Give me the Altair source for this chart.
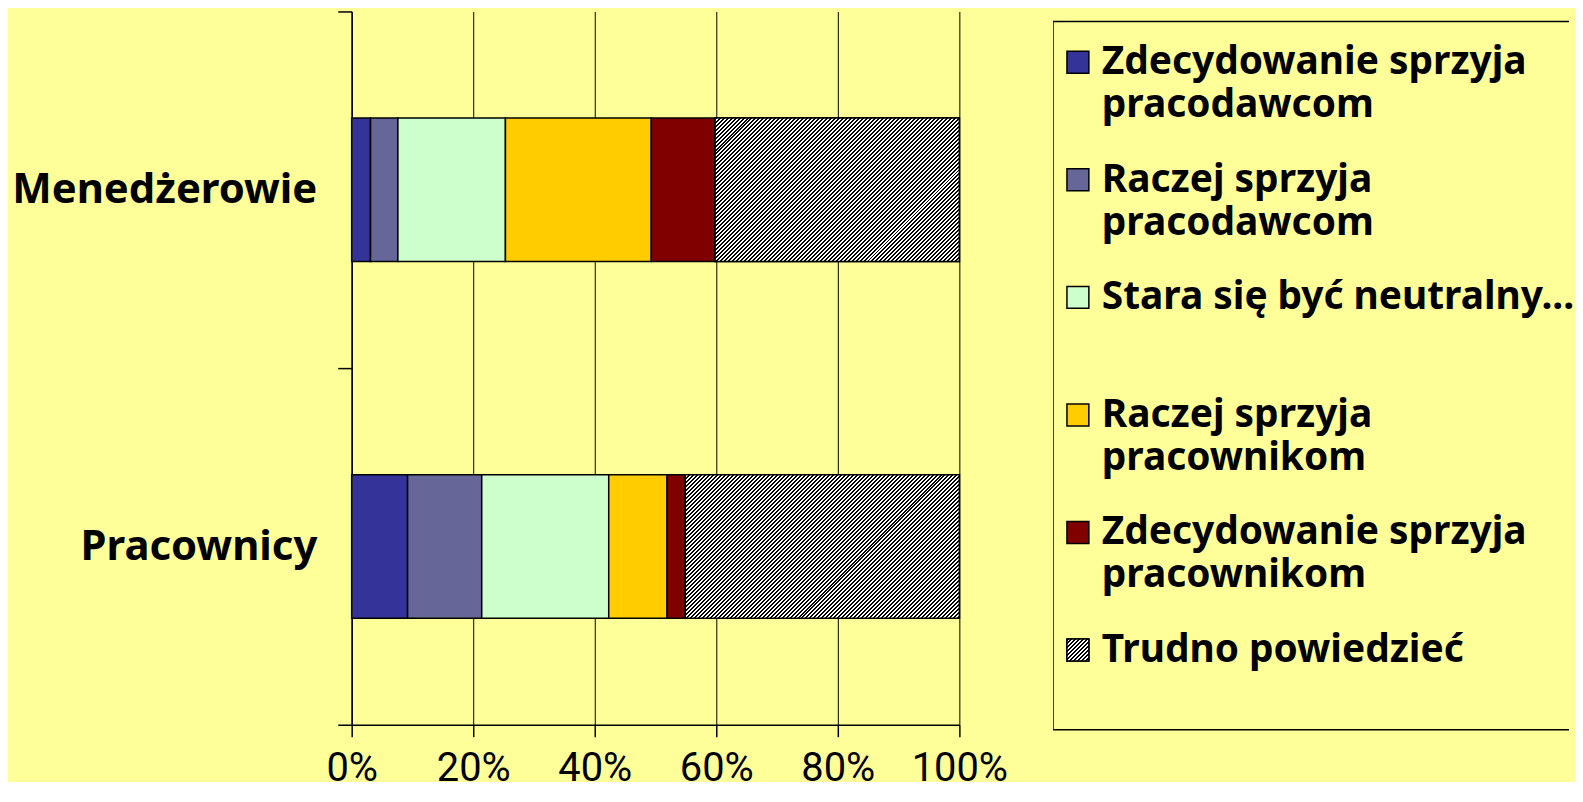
import altair as alt
import pandas as pd

# ---------------- data ----------------
groups = ["Menedżerowie", "Pracownicy"]
answers = [
    "Zdecydowanie sprzyja pracodawcom",
    "Raczej sprzyja pracodawcom",
    "Stara się być neutralny...",
    "Raczej sprzyja pracownikom",
    "Zdecydowanie sprzyja pracownikom",
    "Trudno powiedzieć",
]
legend_line1 = ["Zdecydowanie sprzyja", "Raczej sprzyja", "Stara się być neutralny...",
                "Raczej sprzyja", "Zdecydowanie sprzyja", "Trudno powiedzieć"]
legend_line2 = ["pracodawcom", "pracodawcom", "", "pracownikom", "pracownikom", ""]
menedzerowie = [3.1, 4.5, 17.7, 24.0, 10.5, 40.2]
pracownicy = [9.2, 12.2, 20.9, 9.6, 3.0, 45.1]
colors = ["#333399", "#666699", "#CCFFCC", "#FFCC00", "#800000", "#FFFFFF"]
x_ticks = [0, 0.2, 0.4, 0.6, 0.8, 1.0]

# ---------------- style ----------------
PLOT_W, PLOT_H, BAR_H = 610, 716, 144
LEG_W, LEG_H = 518, 730
BG = "#FFFF99"
BOLD_FONT = "Noto Sans"
TICK_FONT = "Roboto"

rows = []
for g, vals in zip(groups, [menedzerowie, pracownicy]):
    for i, (a, v) in enumerate(zip(answers, vals)):
        rows.append({"group": g, "answer": a, "order": i, "value": v})
df = pd.DataFrame(rows)


def hatch(w, h, period=4.0, frac=0.5):
    """Diagonal black/white stripes ('/' at 45 deg) as a linear gradient."""
    r = h / w
    a = (1 + r) / (1 + r * r)
    n = (w + h) / period
    stops = []
    i = 0
    while i / n < 1:
        o0 = round(i / n, 5)
        o1 = round(min((i + frac) / n, 1), 5)
        o2 = round(min((i + 1) / n, 1), 5)
        stops += [{"offset": o0, "color": "black"}, {"offset": o1, "color": "black"},
                  {"offset": o1, "color": "white"}, {"offset": o2, "color": "white"}]
        i += 1
    return {"gradient": "linear", "x1": 0, "y1": 0, "x2": a, "y2": a * r, "stops": stops}


base = (
    alt.Chart(df)
    .transform_joinaggregate(total="sum(value)", groupby=["group"])
    .transform_stack(stack="value", groupby=["group"],
                     sort=[alt.SortField("order", "ascending")], as_=["s0", "s1"])
    .transform_calculate(f0="datum.s0 / datum.total", f1="datum.s1 / datum.total")
)

y_enc = alt.Y(
    "group:N", sort=groups, title=None,
    scale=alt.Scale(paddingInner=0, paddingOuter=0),
    axis=alt.Axis(tickBand="extent", tickSize=14, tickColor="black", tickWidth=1.5,
                  domainColor="black", domainWidth=1.5, labelFont=BOLD_FONT,
                  labelFontSize=42, labelFontWeight="bold", labelColor="black",
                  labelPadding=21, labelLimit=0, grid=False),
)
x_enc = alt.X(
    "f0:Q", title=None,
    scale=alt.Scale(domain=[0, 1], nice=False),
    axis=alt.Axis(values=x_ticks, format=".0%", grid=True, gridColor="black",
                  gridWidth=1, gridOpacity=1, tickSize=12, tickColor="black",
                  tickWidth=1.5, domainColor="black", domainWidth=1.5,
                  labelFont=TICK_FONT, labelFontSize=40, labelColor="black",
                  labelBaseline="alphabetic", labelPadding=44, labelFlush=False,
                  labelOverlap=False),
)
color_scale = alt.Scale(domain=answers, range=colors)

bars = base.mark_bar(size=BAR_H, stroke="black", strokeWidth=1.5).encode(
    y=y_enc, x=x_enc, x2="f1:Q",
    color=alt.Color("answer:N", scale=color_scale, legend=None),
)

hatch_layers = []
for g, vals in zip(groups, [menedzerowie, pracownicy]):
    w = vals[-1] / sum(vals) * PLOT_W
    hatch_layers.append(
        base.transform_filter((alt.datum.group == g) & (alt.datum.answer == answers[-1]))
        .mark_bar(size=BAR_H, fill=hatch(w, BAR_H), stroke="black", strokeWidth=1.5)
        .encode(y=y_enc, x=x_enc, x2="f1:Q")
    )

main = alt.layer(bars, *hatch_layers).properties(width=PLOT_W, height=PLOT_H)

# ---------------- legend panel ----------------
leg_df = pd.DataFrame({"idx": list(range(len(answers))), "answer": answers,
                       "line1": legend_line1, "line2": legend_line2})
ly = alt.Y("idx:Q", scale=alt.Scale(domain=[-51 / 118, (LEG_H - 51) / 118], reverse=True,
                                    nice=False, zero=False),
           axis=None)
leg_base = alt.Chart(leg_df)

box = alt.Chart(pd.DataFrame({"k": [0]})).mark_rect(
    filled=False, stroke="black", strokeWidth=1.5, clip=True
).encode(x=alt.value(0), x2=alt.value(LEG_W + 20), y=alt.value(10), y2=alt.value(721))

squares = leg_base.mark_square(size=484, stroke="black", strokeWidth=1.5, opacity=1).encode(
    x=alt.value(25), y=ly, color=alt.Color("answer:N", scale=color_scale, legend=None)
)
hatch_sw = leg_base.transform_filter(alt.datum.idx == len(answers) - 1).mark_square(
    size=484, fill=hatch(22, 22), stroke="black", strokeWidth=1.5, opacity=1
).encode(x=alt.value(25), y=ly)

text1 = leg_base.mark_text(align="left", baseline="middle", font=BOLD_FONT, fontSize=39,
                           fontWeight="bold", color="black").encode(
    x=alt.value(49), y=ly, text="line1:N")
text2 = leg_base.mark_text(align="left", baseline="middle", font=BOLD_FONT, fontSize=39,
                           fontWeight="bold", color="black", dy=43).encode(
    x=alt.value(49), y=ly, text="line2:N")

legend = alt.layer(box, squares, hatch_sw, text1, text2).properties(width=LEG_W, height=LEG_H)

chart = (
    alt.hconcat(main, legend, spacing=94, bounds="flush")
    .resolve_scale(x="independent", y="independent")
    .properties(padding={"left": 3, "top": -19, "right": 0, "bottom": -8}, background=BG)
    .configure_view(strokeOpacity=0)
)

chart.save("out.html", embed_options={"renderer": "svg", "actions": False})
